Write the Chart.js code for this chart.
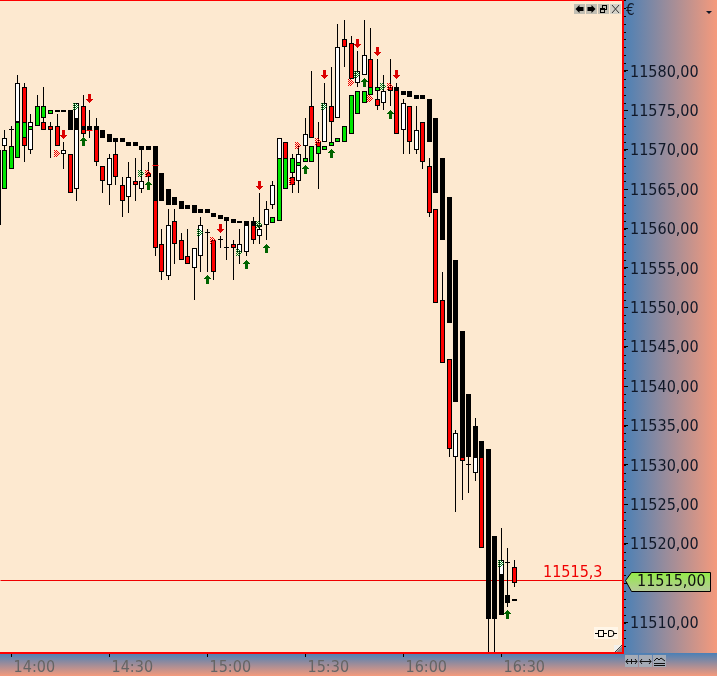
<!DOCTYPE html>
<html>
<head>
<meta charset="utf-8">
<title>Chart</title>
<script src="https://cdn.jsdelivr.net/npm/chart.js@4/dist/chart.umd.min.js"></script>
<style>
  html, body { margin: 0; padding: 0; background: #fde9d0; }
  #wrap { width: 717px; height: 676px; }
</style>
</head>
<body>
<div id="wrap"><canvas id="grafico" width="717" height="676"></canvas></div>
<script>
// 2 minute bars
const barTimes = [
  '13:56','13:58','14:00','14:02','14:04','14:06','14:08','14:10','14:12','14:14',
  '14:16','14:18','14:20','14:22','14:24','14:26','14:28','14:30','14:32','14:34',
  '14:36','14:38','14:40','14:42','14:44','14:46','14:48','14:50','14:52','14:54',
  '14:56','14:58','15:00','15:02','15:04','15:06','15:08','15:10','15:12','15:14',
  '15:16','15:18','15:20','15:22','15:24','15:26','15:28','15:30','15:32','15:34',
  '15:36','15:38','15:40','15:42','15:44','15:46','15:48','15:50','15:52','15:54',
  '15:56','15:58','16:00','16:02','16:04','16:06','16:08','16:10','16:12','16:14',
  '16:16','16:18','16:20','16:22','16:24','16:26','16:28','16:30','16:32','16:34'
];

const opens = [
  11560.5,11570.5,11572.5,11573.5,11578,11570,11574,11573.5,11573,11573,
  11569.5,11569.5,11565,11575.5,11573,11573,11568,11565.5,11569.5,11565.5,
  11564,11566,11565,11567,11570.5,11558,11554,11561,11558.5,11556.5,
  11555,11556.5,11559.5,11558.5,11558.5,11557.5,11558,11557,11557,11560.5,
  11559,11560.5,11563,11561.5,11571,11566.5,11566,11570.5,11575.5,11571,
  11571,11575.5,11574,11584,11583.5,11578.5,11579.5,11581.5,11576.5,11576,
  11578,11578,11572.5,11575.5,11570,11573.5,11568,11562.5,11551,11543.5,
  11531,11531,11530,11529,11531,11515,11515,11516,11517.5,11517
];
const highs = [
  11570,11572.5,11573,11579.5,11578.5,11574.5,11577,11578,11573.5,11574.5,
  11571,11569.5,11576,11577,11575,11574,11568,11569.5,11571,11566.5,
  11568.5,11569,11570,11568.5,11570.5,11560,11562.5,11562.5,11559.5,11560,
  11557.5,11561.5,11560,11558.5,11559,11561,11558.5,11560,11560.5,11561.5,
  11564.5,11563.5,11566,11571.5,11571,11569.5,11570.5,11574,11580,11573.5,
  11578.5,11580.5,11586,11586.5,11584.5,11582.5,11586.5,11585.5,11581.5,11579.5,
  11581.5,11578.5,11576.5,11575.5,11575.5,11573.5,11569,11562.5,11554.5,11543.5,
  11534.5,11531,11531,11536,11533,11532,11521,11522,11519.5,11518
];
const lows = [
  11560.5,11570,11570.5,11573.5,11568.5,11569.5,11573.5,11572.5,11569,11570.5,
  11567.5,11564.5,11563.5,11571.5,11571.5,11568,11564.5,11563,11565.5,11561.5,
  11562,11563.5,11564.5,11565,11556.5,11553.5,11553.5,11555.5,11556,11555.5,
  11551,11554.5,11554.5,11553.5,11557.5,11556,11553.5,11555.5,11556.5,11558,
  11558,11558.5,11562.5,11561,11565,11564.5,11564.5,11569,11571.5,11565,
  11571,11571,11574,11580.5,11579,11578,11579.5,11577,11575,11575,
  11575.5,11572,11569.5,11569.5,11569.5,11567.5,11561.5,11550.5,11543,11531,
  11524,11525.5,11526.5,11528,11519.5,11506,11506,11511,11512,11514.5
];
const closes = [
  11570,11571.5,11572.5,11578.5,11570.5,11573.5,11575,11572.5,11572.5,11570.5,
  11570,11564.5,11576,11572,11572.5,11568.5,11566,11569,11566.5,11563.5,
  11566.5,11565.5,11566,11566.5,11557.5,11554.5,11560.5,11558,11556,11555.5,
  11557.5,11560.5,11559.5,11554.5,11558.5,11557.5,11557.5,11558,11560.5,11558.5,
  11560,11562.5,11565.5,11571.5,11565.5,11565.5,11569.5,11572,11571.5,11569.5,
  11576,11573.5,11583,11583,11579,11580,11582,11577,11575.5,11577.5,
  11577.5,11572,11576,11571,11572.5,11568.5,11562,11550.5,11543,11532,
  11534,11530.5,11530,11531,11519.5,11511,11511,11518,11517.5,11515
];

// second series, boxes without wicks drawn over the candles
const boxHigh = [
  null,11570,11570.5,11573.5,11573.5,11573,11575.5,11575.5,11575,11575,
  11575,11575,11574,11573,11573,11573,11572.5,11572,11571.5,11571.5,
  11571,11571,11570.5,11570.5,11570.5,11567,11565,11564,11563.5,11563,
  11563,11562.5,11562.5,11562,11561.75,11561.5,11561.25,11561,11561,11561,
  11560.5,null,11561.5,11569,11569,11569,11568.5,11569,11570.5,11570.5,
  11570.5,11571,11571.5,11573,11577,11577.5,11577.5,11578,11578,null,
  null,11578,11577.5,11577.5,11577,11577,11576.5,11574,11569,11564,
  11556,11547,11539,11535,11533,11532,11521,11516,11513.5,11513
];
const boxLow = [
  null,11565,11567.5,11569,11571.5,11572.5,11573,11574,11574.5,11574.75,
  11574.75,11572.5,11572.5,11572.5,11572.5,11572.5,11571.5,11571,11571,11571,
  11570.5,11570.5,11570,11570,11563.5,11563.5,11563,11563,11562.5,11562.5,
  11562,11562,11562,11561.5,11561.25,11561,11560.75,11560.75,11560.5,11560.5,
  11560.25,null,11560.75,11561,11565,11567,11568,11568.5,11568.5,11569.5,
  11570,11570.5,11571,11571,11572,11574.5,11576,11577,11577.5,null,
  null,11577.5,11577,11576.75,11576.5,11576.5,11571,11564.5,11558.5,11548,
  11538,11531,11531,11531,11531,11510.5,11510.5,11511,11512.5,11512.75
];
const boxKinds = [
  '','g','g','g','g','g','g','g','g','k',
  'k','k','k','k','k','k','k','k','k','k',
  'k','k','k','k','k','k','k','k','k','k',
  'k','k','k','k','k','k','k','k','k','k',
  'k','','g','g','g','g','g','g','g','g',
  'g','g','g','g','g','g','g','g','g','',
  '','k','k','k','k','k','k','k','k','k',
  'k','k','k','k','k','k','k','k','k','g'
];

// signals
const upTimes = ['14:22','14:42','15:00','15:12','15:18','15:30','15:38','15:48','15:56','16:32'];
const upPrices = [11571,11565.5,11553.5,11555.5,11557.5,11567.5,11569.5,11578.5,11574.5,11511];
const downTimes = ['14:16','14:24','15:04','15:16','15:36','15:46','15:52','15:58'];
const downPrices = [11572,11576.5,11560,11565.5,11579.5,11583.5,11582.5,11579.5];
const redMarkTimes = ['14:14','14:42','15:02','15:26','15:28','15:34','15:44','15:50','15:56'];
const redMarkPrices = [11569.5,11567,11558.5,11566,11570.5,11571,11578.5,11576.5,11578];
const greenMarkTimes = ['14:20','14:40','14:58','15:10','15:16','15:28','15:36','15:46','15:54','16:30'];
const greenMarkPrices = [11575.5,11567,11559.5,11557,11560.5,11570.5,11575.5,11579.5,11578,11517.5];
const dashTimes = ['14:24','14:44'];
const dashPrices = [11572.5,11568];

const lastTrade = [11515.3];
const lastPrice = [11515];

const priceMax = 11589.01;
const priceMin = 11506.14;
const lastPriceTick = 11580;
const lastTimeTick = 150;
const plotRight = 623;
const plotBottom = 653;

function toMinutes(t) {
  const p = t.split(':');
  return Number(p[0]) * 60 + Number(p[1]) - 840;
}
function fmtTime(m) {
  const total = 840 + m;
  return String(Math.floor(total / 60)).padStart(2, '0') + ':' + String(total % 60).padStart(2, '0');
}
function fmtPrice(v, dec) {
  return v.toFixed(dec).replace('.', ',');
}

// small pixel icons for the signals
function pixelIcon(rows, colors) {
  const c = document.createElement('canvas');
  c.width = rows[0].length;
  c.height = rows.length;
  const g = c.getContext('2d');
  rows.forEach((row, y) => {
    for (let x = 0; x < row.length; x++) {
      if (colors[row[x]]) {
        g.fillStyle = colors[row[x]];
        g.fillRect(x, y, 1, 1);
      }
    }
  });
  return c;
}
const upRows = ['...#...','..###..','.#####.','#######','..###..','..###..','..###..','..###..','..###..'];
const chevronRows = ['#.#....','.#.#...','#.#.#..','.#.#.#.','#.#.#..','.#.#...','#.#....'];
const upIcon = pixelIcon(upRows, { '#': '#006400' });
const downIcon = pixelIcon(upRows.slice().reverse(), { '#': '#dc0000' });
const redMark = pixelIcon(chevronRows, { '#': '#f00000' });
const greenMark = pixelIcon(chevronRows, { '#': '#087a20' });

function markSet(times, prices, icon) {
  return {
    type: 'line',
    showLine: false,
    order: 1,
    pointStyle: icon,
    pointRadius: 5,
    data: times.map((t, i) => ({ x: toMinutes(t), y: prices[i] }))
  };
}

const xMin = -3.46;
const xMax = 187.26;
const barX = barTimes.map(toMinutes);

const datasets = [
  // reference price line
  {
    type: 'line',
    order: 9,
    borderColor: '#f00000',
    borderWidth: 1,
    pointRadius: 0,
    data: [{ x: xMin, y: lastTrade[0] }, { x: xMax, y: lastTrade[0] }]
  },
  // wicks
  {
    order: 8,
    barThickness: 1,
    backgroundColor: '#000',
    borderWidth: 0,
    inflateAmount: 0,
    data: barX.map((x, i) => ({ x: x, y: [lows[i], highs[i]] }))
  },
  // bodies
  {
    order: 7,
    barThickness: 5,
    borderColor: '#000',
    borderWidth: 1,
    borderSkipped: false,
    inflateAmount: 0,
    backgroundColor: barX.map((x, i) => closes[i] < opens[i] ? '#ff0000' : '#ffffff'),
    data: barX.map((x, i) => ({ x: x, y: [opens[i], closes[i] === opens[i] ? closes[i] + 0.12 : closes[i]] }))
  },
  // boxes
  {
    order: 6,
    barThickness: 5,
    borderColor: '#000',
    borderWidth: 1,
    borderSkipped: false,
    inflateAmount: 0,
    backgroundColor: boxKinds.map(k => k === 'g' ? '#00e600' : '#000000'),
    data: barX.map((x, i) => ({ x: x, y: boxHigh[i] === null ? null : [boxLow[i], boxHigh[i]] }))
  },
  markSet(upTimes, upPrices, upIcon),
  markSet(downTimes, downPrices, downIcon),
  markSet(redMarkTimes, redMarkPrices, redMark),
  markSet(greenMarkTimes, greenMarkPrices, greenMark),
  {
    type: 'line',
    showLine: false,
    order: 2,
    pointStyle: 'line',
    pointRadius: 3,
    pointBorderColor: '#f00000',
    pointBorderWidth: 1,
    data: dashTimes.map((t, i) => ({ x: toMinutes(t), y: dashPrices[i] }))
  }
];

// everything on whole pixels, the original has no antialiasing
const pixelSnap = {
  id: 'pixelSnap',
  beforeDatasetsDraw(chart) {
    chart.data.datasets.forEach((ds, n) => {
      chart.getDatasetMeta(n).data.forEach(el => {
        if (el.skip) return;
        el.x = Math.floor(el.x) + 0.5;
        if (el.base !== undefined) {
          el.y = Math.round(el.y);
          el.base = Math.round(el.base);
          if (el.y === el.base) el.y = el.base - 1;
        } else {
          el.y = Math.floor(el.y) + 0.5;
        }
      });
    });
  }
};

function roundBox(ctx, x, y, w, h, fill) {
  ctx.fillStyle = fill;
  ctx.fillRect(x, y, w, h);
}

function drawTopButtons(ctx) {
  [574, 586, 598, 610].forEach((x, i) => {
    roundBox(ctx, x, 4, 11, 10, i === 3 ? '#d5d2c8' : '#c2bfb4');
    ctx.fillStyle = '#000';
    ctx.strokeStyle = '#000';
    ctx.lineWidth = 1;
    if (i === 0 || i === 1) {
      const d = i === 0 ? 1 : -1;
      const c = x + 5.5;
      ctx.beginPath();
      ctx.moveTo(c - 4 * d, 9);
      ctx.lineTo(c, 5);
      ctx.lineTo(c, 7);
      ctx.lineTo(c + 4 * d, 7);
      ctx.lineTo(c + 4 * d, 11);
      ctx.lineTo(c, 11);
      ctx.lineTo(c, 13);
      ctx.closePath();
      ctx.fill();
    } else if (i === 2) {
      ctx.strokeRect(x + 4.5, 5.5, 4, 4);
      ctx.fillRect(x + 2, 8, 5, 5);
      ctx.fillStyle = '#c2bfb4';
      ctx.fillRect(x + 3, 10, 3, 2);
    } else {
      ctx.strokeStyle = '#333';
      ctx.beginPath();
      ctx.moveTo(x + 2, 5);
      ctx.lineTo(x + 9, 13);
      ctx.moveTo(x + 9, 5);
      ctx.lineTo(x + 2, 13);
      ctx.stroke();
    }
  });
}

function drawCornerButtons(ctx) {
  [625, 639, 653].forEach((x, i) => {
    roundBox(ctx, x, 655, 13, 12, '#a4abb6');
    ctx.strokeStyle = '#111';
    ctx.lineWidth = 1;
    ctx.beginPath();
    if (i < 2) {
      ctx.moveTo(x + 1, 661.5);
      ctx.lineTo(x + 12, 661.5);
      ctx.moveTo(x + 3, 659);
      ctx.lineTo(x + 1, 661.5);
      ctx.lineTo(x + 3, 664);
      ctx.moveTo(x + 10, 659);
      ctx.lineTo(x + 12, 661.5);
      ctx.lineTo(x + 10, 664);
      if (i === 0) {
        ctx.moveTo(x + 6.5, 659);
        ctx.lineTo(x + 6.5, 664);
      }
    } else {
      ctx.moveTo(x + 1, 661);
      ctx.lineTo(x + 4, 658);
      ctx.lineTo(x + 6, 660);
      ctx.lineTo(x + 8, 658);
      ctx.lineTo(x + 12, 661);
      ctx.moveTo(x + 1, 663.5);
      ctx.lineTo(x + 12, 663.5);
      ctx.moveTo(x + 1, 665.5);
      ctx.lineTo(x + 12, 665.5);
    }
    ctx.stroke();
  });
}

function drawPlugIcon(ctx) {
  roundBox(ctx, 594, 627, 24, 12, '#fff6e8');
  ctx.strokeStyle = '#000';
  ctx.lineWidth = 1;
  ctx.beginPath();
  ctx.moveTo(595, 633.5);
  ctx.lineTo(598, 633.5);
  ctx.moveTo(603, 633.5);
  ctx.lineTo(607, 633.5);
  ctx.moveTo(613, 633.5);
  ctx.lineTo(617, 633.5);
  ctx.stroke();
  ctx.strokeRect(598.5, 630.5, 5, 6);
  ctx.beginPath();
  ctx.moveTo(608.5, 630.5);
  ctx.lineTo(611, 630.5);
  ctx.arc(611, 633.5, 3, -Math.PI / 2, Math.PI / 2);
  ctx.lineTo(608.5, 636.5);
  ctx.closePath();
  ctx.stroke();
}

function drawCornerGrip(ctx) {
  roundBox(ctx, 614, 645, 8, 7, '#f2f0ec');
  ctx.strokeStyle = '#444';
  ctx.lineWidth = 1;
  ctx.beginPath();
  ctx.moveTo(615, 652);
  ctx.lineTo(622, 645);
  ctx.stroke();
  ctx.fillStyle = '#8a8a8a';
  ctx.beginPath();
  ctx.moveTo(622, 646);
  ctx.lineTo(622, 652);
  ctx.lineTo(616, 652);
  ctx.closePath();
  ctx.fill();
}

const AXIS_FONT = '"DejaVu Sans Condensed", "DejaVu Sans", sans-serif';

const chrome = {
  id: 'chrome',
  beforeDraw(chart) {
    const ctx = chart.ctx;
    ctx.save();
    ctx.fillStyle = '#fde9d0';
    ctx.fillRect(0, 0, plotRight, plotBottom);
    const gr = ctx.createLinearGradient(plotRight, 0, 717, 0);
    gr.addColorStop(0, '#4a80b6');
    gr.addColorStop(1, '#f59a7c');
    ctx.fillStyle = gr;
    ctx.fillRect(plotRight, 0, 94, plotBottom);
    const gb = ctx.createLinearGradient(0, plotBottom, 0, 676);
    gb.addColorStop(0, '#4a80b6');
    gb.addColorStop(1, '#f59a7c');
    ctx.fillStyle = gb;
    ctx.fillRect(0, plotBottom, 717, 23);
    ctx.restore();
  },
  afterDraw(chart) {
    const ctx = chart.ctx;
    const y = chart.scales.y;
    ctx.save();

    // one point ticks on the price axis
    ctx.fillStyle = '#000';
    for (let p = Math.ceil(priceMin); p <= Math.floor(priceMax); p++) {
      ctx.fillRect(plotRight, Math.round(y.getPixelForValue(p)), 3, 1);
    }

    // plot frame
    ctx.fillStyle = '#ff0000';
    ctx.fillRect(0, 0, plotRight, 1);
    ctx.fillRect(622, 0, 2, plotBottom + 1);
    ctx.fillRect(0, 652, plotRight, 2);

    drawTopButtons(ctx);
    drawCornerButtons(ctx);
    drawPlugIcon(ctx);
    drawCornerGrip(ctx);

    ctx.fillStyle = '#101828';
    ctx.font = '15px ' + AXIS_FONT;
    ctx.textAlign = 'left';
    ctx.textBaseline = 'middle';
    ctx.fillText('€', 626, 11);
    ctx.beginPath();
    ctx.moveTo(706, 11);
    ctx.lineTo(712, 11);
    ctx.lineTo(709, 14);
    ctx.closePath();
    ctx.fill();

    // last trade text
    const py = y.getPixelForValue(lastTrade[0]);
    ctx.fillStyle = '#f00000';
    ctx.font = '16px ' + AXIS_FONT;
    ctx.fillText(fmtPrice(lastTrade[0], 1), 543, py - 8);

    // last price tag
    const ty = Math.round(y.getPixelForValue(lastPrice[0])) - 3;
    const tg = ctx.createLinearGradient(0, ty - 10, 0, ty + 10);
    tg.addColorStop(0, '#8ff23c');
    tg.addColorStop(1, '#b4cc94');
    ctx.fillStyle = tg;
    ctx.strokeStyle = '#000';
    ctx.lineWidth = 1;
    ctx.beginPath();
    ctx.moveTo(625.5, ty + 0.5);
    ctx.lineTo(631.5, ty - 7.5);
    ctx.lineTo(710.5, ty - 7.5);
    ctx.lineTo(710.5, ty + 11.5);
    ctx.lineTo(631.5, ty + 11.5);
    ctx.closePath();
    ctx.fill();
    ctx.stroke();
    ctx.fillStyle = '#101010';
    ctx.fillText(fmtPrice(lastPrice[0], 2), 637, ty + 2);

    ctx.restore();
  }
};

new Chart(document.getElementById('grafico').getContext('2d'), {
  type: 'bar',
  data: { datasets: datasets },
  plugins: [pixelSnap, chrome],
  options: {
    responsive: false,
    animation: false,
    events: [],
    layout: { padding: 0, autoPadding: false },
    datasets: { bar: { grouped: false } },
    plugins: { legend: { display: false }, tooltip: { enabled: false }, title: { display: false } },
    scales: {
      x: {
        type: 'linear',
        position: 'bottom',
        min: xMin,
        max: xMax,
        offset: false,
        border: { display: false },
        grid: { offset: false, drawOnChartArea: false, tickLength: 4, tickColor: '#000' },
        ticks: {
          stepSize: 30,
          includeBounds: false,
          maxRotation: 0,
          autoSkip: false,
          padding: 1,
          labelOffset: 23,
          color: '#656565',
          font: { family: AXIS_FONT, size: 16 },
          callback: v => fmtTime(v)
        },
        afterBuildTicks(scale) {
          scale.ticks = scale.ticks.filter(t => t.value <= lastTimeTick);
        },
        afterFit(scale) {
          scale.height = 23;
          scale.paddingLeft = 0;
          scale.paddingRight = 0;
        }
      },
      y: {
        position: 'right',
        min: priceMin,
        max: priceMax,
        border: { display: false },
        grid: { drawOnChartArea: false, tickLength: 5, tickColor: '#000' },
        ticks: {
          stepSize: 5,
          includeBounds: false,
          autoSkip: false,
          padding: 2,
          labelOffset: 1.5,
          color: '#101828',
          font: { family: AXIS_FONT, size: 16 },
          callback: v => fmtPrice(v, 2)
        },
        afterBuildTicks(scale) {
          scale.ticks = scale.ticks.filter(t => t.value <= lastPriceTick);
        },
        afterFit(scale) {
          scale.width = 94;
          scale.paddingTop = 0;
          scale.paddingBottom = 0;
        }
      }
    }
  }
});
</script>
</body>
</html>
